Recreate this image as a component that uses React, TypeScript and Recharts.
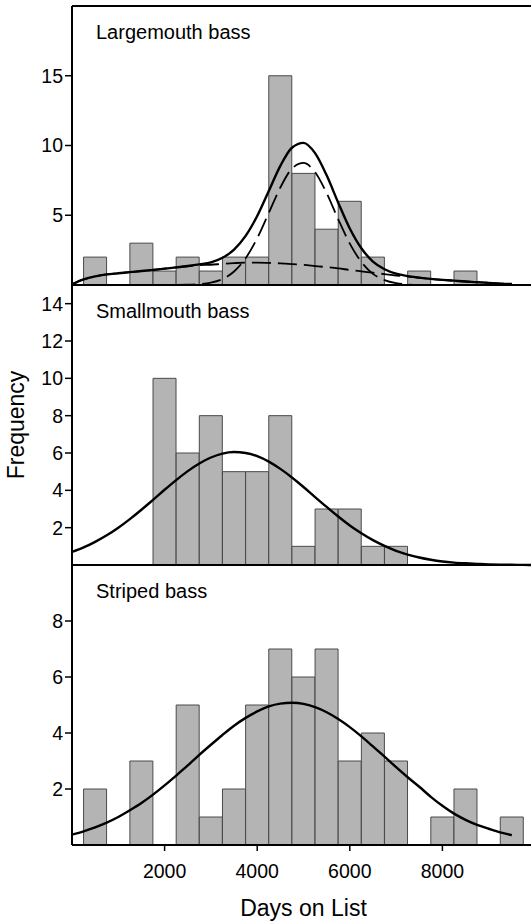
import { ComposedChart, Bar, Line, XAxis, YAxis, ReferenceLine, Customized } from 'recharts'

// histogram bins, 500 days wide
const binCenters = [500, 1000, 1500, 2000, 2500, 3000, 3500, 4000, 4500, 5000, 5500, 6000, 6500, 7000, 7500, 8000, 8500, 9000, 9500]
const largemouthCounts = [2, 0, 3, 1, 2, 1, 2, 2, 15, 8, 4, 6, 2, 0, 1, 0, 1, 0, 0]
const smallmouthCounts = [0, 0, 0, 10, 6, 8, 5, 5, 8, 1, 3, 3, 1, 1, 0, 0, 0, 0, 0]
const stripedCounts = [2, 0, 3, 0, 5, 1, 2, 5, 7, 6, 7, 3, 4, 3, 0, 1, 2, 0, 1]

// fitted curves, every 250 days
const fitDays = [0, 250, 500, 750, 1000, 1250, 1500, 1750, 2000, 2250, 2500, 2750, 3000, 3250, 3500, 3750, 4000, 4250, 4500, 4750, 5000, 5250, 5500, 5750, 6000, 6250, 6500, 6750, 7000, 7250, 7500, 7750, 8000, 8250, 8500, 8750, 9000, 9250, 9500, 9750, 10000]
const largemouthFit = [0.05, 0.4, 0.62, 0.76, 0.84, 0.92, 1.0, 1.08, 1.17, 1.26, 1.36, 1.48, 1.62, 1.95, 2.54, 3.52, 4.95, 6.74, 8.54, 9.84, 10.19, 9.45, 7.86, 5.9, 4.05, 2.63, 1.68, 1.13, 0.81, 0.64, 0.53, 0.44, 0.37, 0.31, 0.25, 0.2, 0.15, 0.1, 0.07, null, null]
const largemouthPeak = [null, null, null, null, null, null, null, null, null, 0.01, 0.02, 0.06, 0.17, 0.43, 0.97, 1.92, 3.35, 5.16, 6.99, 8.34, 8.75, 8.09, 6.58, 4.71, 2.97, 1.65, 0.8, 0.35, 0.13, 0.04, 0.01, null, null, null, null, null, null, null, null, null, null]
const largemouthBroad = [0.05, 0.4, 0.62, 0.76, 0.84, 0.92, 1.0, 1.08, 1.17, 1.26, 1.34, 1.42, 1.45, 1.52, 1.57, 1.6, 1.6, 1.58, 1.55, 1.5, 1.44, 1.36, 1.28, 1.19, 1.08, 0.98, 0.88, 0.78, 0.68, 0.6, 0.52, 0.44, 0.37, 0.31, 0.25, 0.2, 0.15, 0.1, 0.07, null, null]
const smallmouthFit = [0.7, 0.94, 1.24, 1.59, 2.0, 2.46, 2.96, 3.49, 4.03, 4.55, 5.03, 5.44, 5.76, 5.97, 6.05, 6.0, 5.83, 5.54, 5.15, 4.69, 4.18, 3.64, 3.11, 2.6, 2.12, 1.7, 1.33, 1.02, 0.76, 0.56, 0.4, 0.28, 0.19, 0.13, 0.09, 0.06, 0.035, 0.02, 0.01, 0.005, 0]
const stripedFit = [0.37, 0.49, 0.63, 0.8, 1.0, 1.24, 1.5, 1.8, 2.13, 2.48, 2.84, 3.22, 3.58, 3.93, 4.26, 4.54, 4.77, 4.95, 5.05, 5.08, 5.04, 4.92, 4.74, 4.5, 4.21, 3.88, 3.52, 3.16, 2.78, 2.42, 2.08, 1.72, 1.4, 1.12, 0.9, 0.72, 0.58, 0.45, 0.35, null, null]

const dayTicks = [2000, 4000, 6000, 8000]

const FONT = '"Liberation Sans", Arial, sans-serif'
const BAR_FILL = '#b4b4b4'
const BAR_STROKE = '#4a4a4a'

type FitRow = { day: number; fit: number | null; peak: number | null; broad: number | null }

const toBins = (counts: number[]) => binCenters.map((day, i) => ({ day, count: counts[i] }))
const toFit = (fit: (number | null)[], peak?: (number | null)[], broad?: (number | null)[]): FitRow[] =>
  fitDays.map((day, i) => ({ day, fit: fit[i], peak: peak ? peak[i] : null, broad: broad ? broad[i] : null }))

interface PanelProps {
  title: string
  counts: number[]
  fits: FitRow[]
  yMax: number
  yTicks: number[]
  top: number
  height: number
  plotTop: number
  withDays?: boolean
  withFrequency?: boolean
  withBorder?: boolean
  withComponents?: boolean
}

function Panel({ title, counts, fits, yMax, yTicks, top, height, plotTop, withDays, withFrequency, withBorder, withComponents }: PanelProps) {
  const tickStyle = { fill: '#000', fontSize: 19.5 }
  return (
    <div style={{ position: 'absolute', left: 0, top }}>
      <ComposedChart
        width={540}
        height={height}
        data={toBins(counts)}
        margin={{ top: plotTop, right: 5, bottom: withDays ? 0 : 2, left: 0 }}
        barCategoryGap={0}
        barGap={0}
      >
        <XAxis
          xAxisId="bin"
          dataKey="day"
          type="number"
          domain={[0, 10000]}
          allowDataOverflow
          ticks={withDays ? dayTicks : []}
          tick={withDays ? tickStyle : false}
          tickSize={6}
          tickMargin={13}
          height={withDays ? 76 : 0}
          axisLine={{ stroke: '#000', strokeWidth: 2 }}
          tickLine={{ stroke: '#000', strokeWidth: 1.5 }}
          label={withDays ? { value: 'Days on List', position: 'insideBottom', offset: 5, fill: '#000', fontSize: 23 } : undefined}
        />
        <XAxis xAxisId="fit" dataKey="day" type="number" domain={[0, 10000]} allowDataOverflow hide />
        <YAxis
          type="number"
          domain={[0, yMax]}
          ticks={yTicks}
          interval={0}
          width={72}
          tick={tickStyle}
          tickSize={7}
          tickMargin={2}
          axisLine={{ stroke: '#000', strokeWidth: 2 }}
          tickLine={{ stroke: '#000', strokeWidth: 1.5 }}
        />
        {withBorder && <ReferenceLine xAxisId="bin" y={yMax} stroke="#000" strokeWidth={2} />}
        <Bar xAxisId="bin" dataKey="count" fill={BAR_FILL} stroke={BAR_STROKE} strokeWidth={1} isAnimationActive={false} />
        {withComponents && (
          <Line xAxisId="fit" data={fits} dataKey="broad" type="monotone" stroke="#000" strokeWidth={1.8}
            strokeDasharray="19 7" dot={false} activeDot={false} isAnimationActive={false} />
        )}
        {withComponents && (
          <Line xAxisId="fit" data={fits} dataKey="peak" type="monotone" stroke="#000" strokeWidth={1.8}
            strokeDasharray="19 7" dot={false} activeDot={false} isAnimationActive={false} />
        )}
        <Line xAxisId="fit" data={fits} dataKey="fit" type="monotone" stroke="#000" strokeWidth={2.4}
          dot={false} activeDot={false} isAnimationActive={false} />
        {!withDays && <ReferenceLine xAxisId="bin" y={0} stroke="#000" strokeWidth={2} />}
        <Customized
          component={() => (
            <g>
              <text x={96} y={plotTop + 33} fontSize={20} fill="#000" fontFamily={FONT}>{title}</text>
              {withFrequency && (
                <text x={24} y={plotTop + 140} transform={`rotate(-90 24 ${plotTop + 140})`} textAnchor="middle"
                  fontSize={23} fill="#000" fontFamily={FONT}>Frequency</text>
              )}
            </g>
          )}
        />
      </ComposedChart>
    </div>
  )
}

export default function App() {
  return (
    <div style={{ position: 'absolute', left: 0, top: 0, width: 531, height: 921, overflow: 'hidden', background: '#fff', fontFamily: FONT }}>
      <Panel
        title="Largemouth bass"
        counts={largemouthCounts}
        fits={toFit(largemouthFit, largemouthPeak, largemouthBroad)}
        yMax={20}
        yTicks={[5, 10, 15]}
        top={0}
        height={287}
        plotTop={6}
        withBorder
        withComponents
      />
      <Panel
        title="Smallmouth bass"
        counts={smallmouthCounts}
        fits={toFit(smallmouthFit)}
        yMax={15}
        yTicks={[2, 4, 6, 8, 10, 12, 14]}
        top={285}
        height={282}
        plotTop={0}
        withFrequency
      />
      <Panel
        title="Striped bass"
        counts={stripedCounts}
        fits={toFit(stripedFit)}
        yMax={10}
        yTicks={[2, 4, 6, 8]}
        top={565}
        height={356}
        plotTop={0}
        withDays
      />
    </div>
  )
}
